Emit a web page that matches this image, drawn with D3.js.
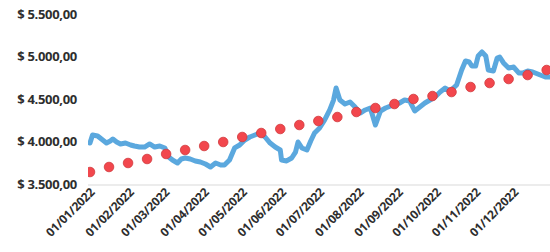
<!DOCTYPE html>
<html>
<head>
<meta charset="utf-8">
<script src="https://cdn.jsdelivr.net/npm/d3@7"></script>
<style>
  body { margin: 0; background: #fff; }
  svg { display: block; }
</style>
</head>
<body>
<script>
var width = 550;
var height = 252;

// daily price (blue line)
var priceDates = [
  "2022-01-01","2022-01-03","2022-01-07","2022-01-09","2022-01-12","2022-01-14","2022-01-17","2022-01-19",
  "2022-01-22","2022-01-25","2022-01-29","2022-02-02","2022-02-05","2022-02-09","2022-02-13","2022-02-17",
  "2022-02-21","2022-02-25","2022-03-01","2022-03-04","2022-03-07","2022-03-11","2022-03-14","2022-03-17",
  "2022-03-21","2022-03-25","2022-03-29","2022-04-02","2022-04-06","2022-04-10","2022-04-14","2022-04-17",
  "2022-04-21","2022-04-25","2022-04-29","2022-05-03","2022-05-07","2022-05-11","2022-05-15","2022-05-19",
  "2022-05-23","2022-05-27","2022-05-31","2022-06-01","2022-06-05","2022-06-09","2022-06-12","2022-06-14",
  "2022-06-17","2022-06-21","2022-06-24","2022-06-27","2022-07-01","2022-07-05","2022-07-09","2022-07-12",
  "2022-07-14","2022-07-17","2022-07-21","2022-07-25","2022-07-29","2022-08-02","2022-08-06","2022-08-10",
  "2022-08-14","2022-08-18","2022-08-22","2022-08-26","2022-08-30","2022-09-02","2022-09-06","2022-09-10",
  "2022-09-14","2022-09-18","2022-09-22","2022-09-26","2022-09-30","2022-10-04","2022-10-08","2022-10-12",
  "2022-10-17","2022-10-21","2022-10-24","2022-10-27","2022-10-29","2022-11-01","2022-11-03","2022-11-06",
  "2022-11-09","2022-11-11","2022-11-15","2022-11-18","2022-11-20","2022-11-23","2022-11-27","2022-12-01",
  "2022-12-05","2022-12-08","2022-12-12","2022-12-16","2022-12-20","2022-12-26","2022-12-30"
];
var priceValues = [
  3982,4076,4065,4041,4006,3982,4006,4029,
  3994,3971,3982,3959,3947,3935,3935,3971,
  3935,3947,3924,3818,3782,3747,3794,3806,
  3794,3771,3759,3735,3700,3747,3724,3724,
  3782,3924,3959,4018,4053,4076,4100,4053,
  3982,3935,3900,3782,3771,3806,3876,3994,
  3924,3900,4006,4100,4159,4253,4371,4488,
  4629,4488,4441,4465,4406,4335,4371,4394,
  4194,4359,4394,4418,4441,4453,4488,4476,
  4359,4406,4453,4488,4524,4582,4629,4594,
  4665,4841,4947,4935,4888,4888,5006,5053,
  5006,4841,4829,4982,4994,4924,4865,4876,
  4806,4806,4829,4818,4794,4759,4759
];

// trend points (red dots)
var trendDates = [
  "2022-01-01","2022-01-16","2022-01-31","2022-02-15","2022-03-02","2022-03-17","2022-04-01","2022-04-16",
  "2022-05-01","2022-05-16","2022-05-31","2022-06-15","2022-06-30","2022-07-15","2022-07-30","2022-08-14",
  "2022-08-29","2022-09-13","2022-09-28","2022-10-13","2022-10-28","2022-11-12","2022-11-27","2022-12-12",
  "2022-12-27"
];
var trendValues = [
  3641,3700,3747,3794,3853,3900,3947,3994,
  4053,4100,4147,4194,4241,4288,4347,4394,
  4441,4500,4535,4582,4641,4688,4735,4782,
  4841
];

var yTicks = [3500, 4000, 4500, 5000, 5500];
var xTickDates = [
  "2022-01-01","2022-02-01","2022-03-01","2022-04-01","2022-05-01","2022-06-01",
  "2022-07-01","2022-08-01","2022-09-01","2022-10-01","2022-11-01","2022-12-01"
];

var lineColor = "#5ba8de";
var dotFill = "#f2474d";
var dotStroke = "#d03a3e";
var labelColor = "#2e2e2e";
var axisColor = "#d9d9d9";
var fontFamily = "'Open Sans', 'Liberation Sans', sans-serif";

var parse = d3.timeParse("%Y-%m-%d");
var fmtDate = d3.timeFormat("%d/%m/%Y");
var fmtMoney = function(v) {
  return "$ " + d3.format(",.2f")(v).replace(/,/g, "#").replace(".", ",").replace(/#/g, ".");
};

var plotLeft = 88;
var x = d3.scaleTime()
  .domain([parse("2022-01-01"), parse("2023-01-01")])
  .range([90, 553]);
var y = d3.scaleLinear()
  .domain([3500, 5500])
  .range([184, 14]);

var svg = d3.select("body").append("svg")
  .attr("width", width)
  .attr("height", height)
  .attr("font-family", fontFamily);

svg.append("defs").append("clipPath")
  .attr("id", "plot-clip")
  .append("rect")
    .attr("x", plotLeft)
    .attr("y", 0)
    .attr("width", width - plotLeft)
    .attr("height", height);

// axis line
svg.append("line")
  .attr("x1", plotLeft)
  .attr("x2", width)
  .attr("y1", y(3500) + 1)
  .attr("y2", y(3500) + 1)
  .attr("stroke", axisColor)
  .attr("stroke-width", 1);

// y labels
svg.append("g")
  .attr("transform", "translate(77,0)")
  .call(d3.axisLeft(y).tickValues(yTicks).tickSize(0).tickPadding(0).tickFormat(fmtMoney))
  .call(function(g) { g.select(".domain").remove(); })
  .selectAll("text")
    .attr("fill", labelColor)
    .attr("font-size", 13)
    .attr("font-weight", "bold")
    .attr("letter-spacing", -0.3)
    .attr("font-family", fontFamily);

// x labels
var xAxis = svg.append("g")
  .attr("transform", "translate(0," + 190 + ")")
  .call(d3.axisBottom(x).tickValues(xTickDates.map(parse)).tickSize(0).tickPadding(0).tickFormat(fmtDate));
xAxis.select(".domain").remove();
xAxis.selectAll("text")
  .attr("fill", labelColor)
  .attr("font-size", 12)
  .attr("font-weight", "bold")
  .attr("letter-spacing", -0.2)
  .attr("font-family", fontFamily)
  .attr("text-anchor", "end")
  .attr("dy", "0.35em")
  .attr("transform", "translate(2,0) rotate(-45)");

var plot = svg.append("g").attr("clip-path", "url(#plot-clip)");

var priceData = priceDates.map(function(d, i) { return { date: parse(d), value: priceValues[i] }; });
var trendData = trendDates.map(function(d, i) { return { date: parse(d), value: trendValues[i] }; });

plot.append("path")
  .datum(priceData)
  .attr("fill", "none")
  .attr("stroke", lineColor)
  .attr("stroke-width", 5)
  .attr("stroke-linejoin", "round")
  .attr("stroke-linecap", "round")
  .attr("d", d3.line()
    .x(function(d) { return x(d.date); })
    .y(function(d) { return y(d.value); }));

plot.selectAll("circle.trend")
  .data(trendData)
  .enter().append("circle")
    .classed("trend", true)
    .attr("cx", function(d) { return x(d.date); })
    .attr("cy", function(d) { return y(d.value); })
    .attr("r", 4.8)
    .attr("fill", dotFill)
    .attr("stroke", dotStroke)
    .attr("stroke-width", 0.8);
</script>
</body>
</html>
